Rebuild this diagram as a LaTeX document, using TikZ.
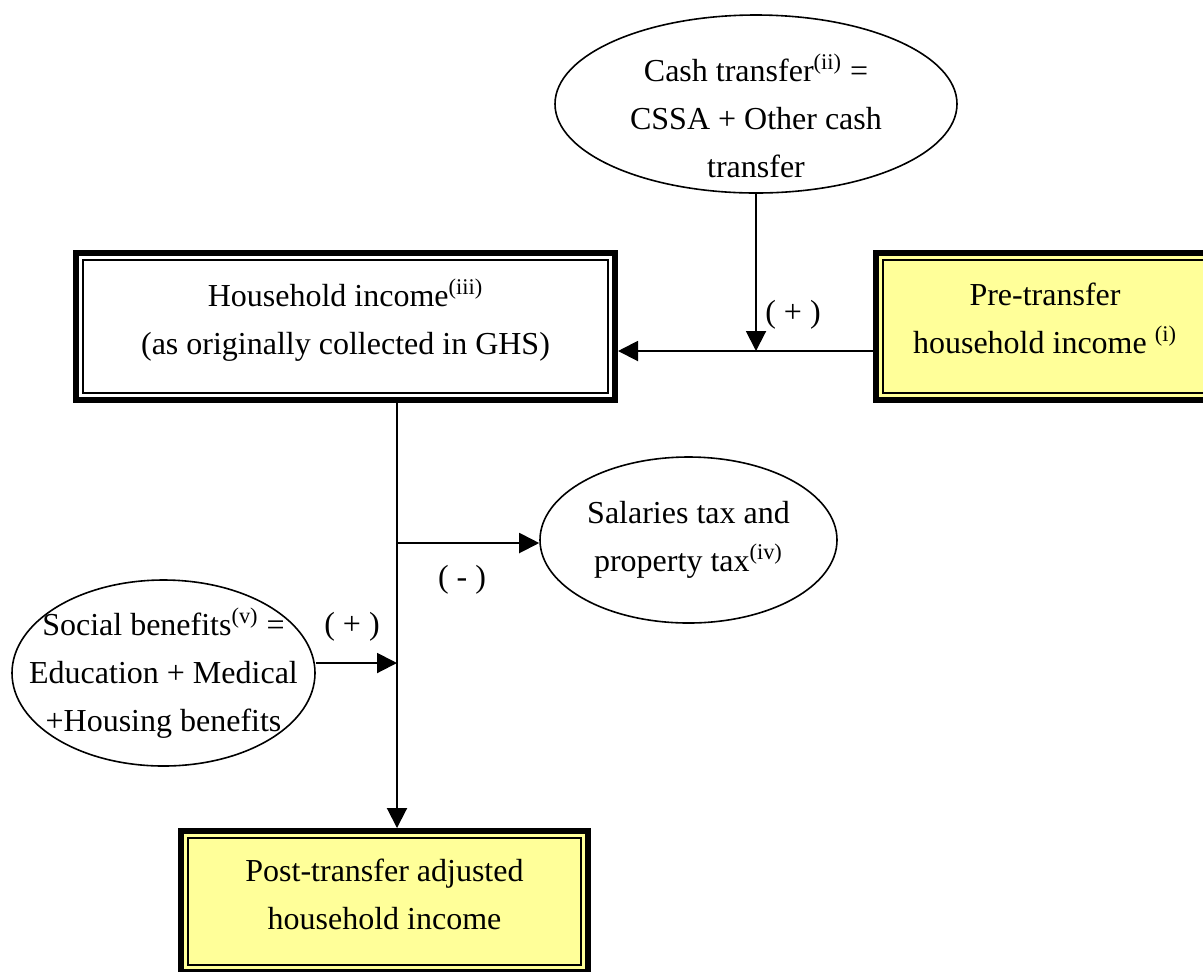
\documentclass[tikz,border=0pt]{standalone}
\usepackage{fontspec}
\setmainfont{Liberation Serif}
\usetikzlibrary{arrows.meta, shapes.geometric, positioning}
\definecolor{boxyellow}{RGB}{255,255,153}

\begin{document}
\begin{tikzpicture}[x=0.5pt,y=-0.5pt,
		every node/.style={font=\fontsize{16}{24}\selectfont, align=center},
		incbox/.style={draw, rectangle, line width=3pt, inner sep=0pt,
			path picture={\draw[line width=0.75pt] ([shift={(3.5pt,-3.5pt)}]path picture bounding box.north west) rectangle ([shift={(-3.5pt,3.5pt)}]path picture bounding box.south east);}},
		part/.style={draw, ellipse, line width=0.8pt, inner sep=0pt},
		arr/.style={line width=1pt, -{Triangle[length=10pt,width=10pt]}}]
		\useasboundingbox (0,0) rectangle (1203,971);
		
		% income boxes
		\node[incbox, fill=white, minimum width=269.5pt, minimum height=73.5pt] (hhinc) at (345.5,326.5) {Household income\textsuperscript{(iii)}\\(as originally collected in GHS)\\[-14pt]};
		\node[incbox, fill=boxyellow, minimum width=169pt, minimum height=73.5pt] (pretr) at (1045,326.5) {Pre-transfer\\household income \textsuperscript{(i)}\\[-16pt]};
		\node[incbox, fill=boxyellow, minimum width=203.5pt, minimum height=70.5pt] (posttr) at (384.5,901.5) {Post-transfer adjusted\\household income\\[-17pt]};
		
		% transfers and taxes
		\node[part, minimum width=201pt, minimum height=89pt,
			label={[yshift=-6pt]center:Cash transfer\textsuperscript{(ii)} =\\CSSA + Other cash\\transfer}] (cash) at (756,104) {};
		\node[part, minimum width=148.5pt, minimum height=83pt] (tax) at (688.5,540) {Salaries tax and\\property tax\textsuperscript{(iv)}};
		\node[part, minimum width=151.5pt, minimum height=93pt,
			label={center:Social benefits\textsuperscript{(v)} =\\Education + Medical\\+Housing benefits}] (social) at (163.5,673) {};
		
		\node (plusa) at (793,315) {( + )};
		\node (minus) at (462,580) {( - )};
		\node (plusb) at (352,627) {( + )};
		
		\coordinate (j1) at (756,351);
		\coordinate (trunk) at (397,543);
		\coordinate (sb) at (397,663);
		
		\draw[arr] (pretr.west |- j1) -- (hhinc.east |- j1);
		\draw[arr] (cash.south) -- (j1);
		\draw[arr] (hhinc.south -| trunk) -- (posttr.north -| trunk);
		\draw[arr] (trunk) -- (trunk -| tax.west);
		\draw[arr] (social.east |- sb) -- (sb);
		
\end{tikzpicture}
\end{document}
